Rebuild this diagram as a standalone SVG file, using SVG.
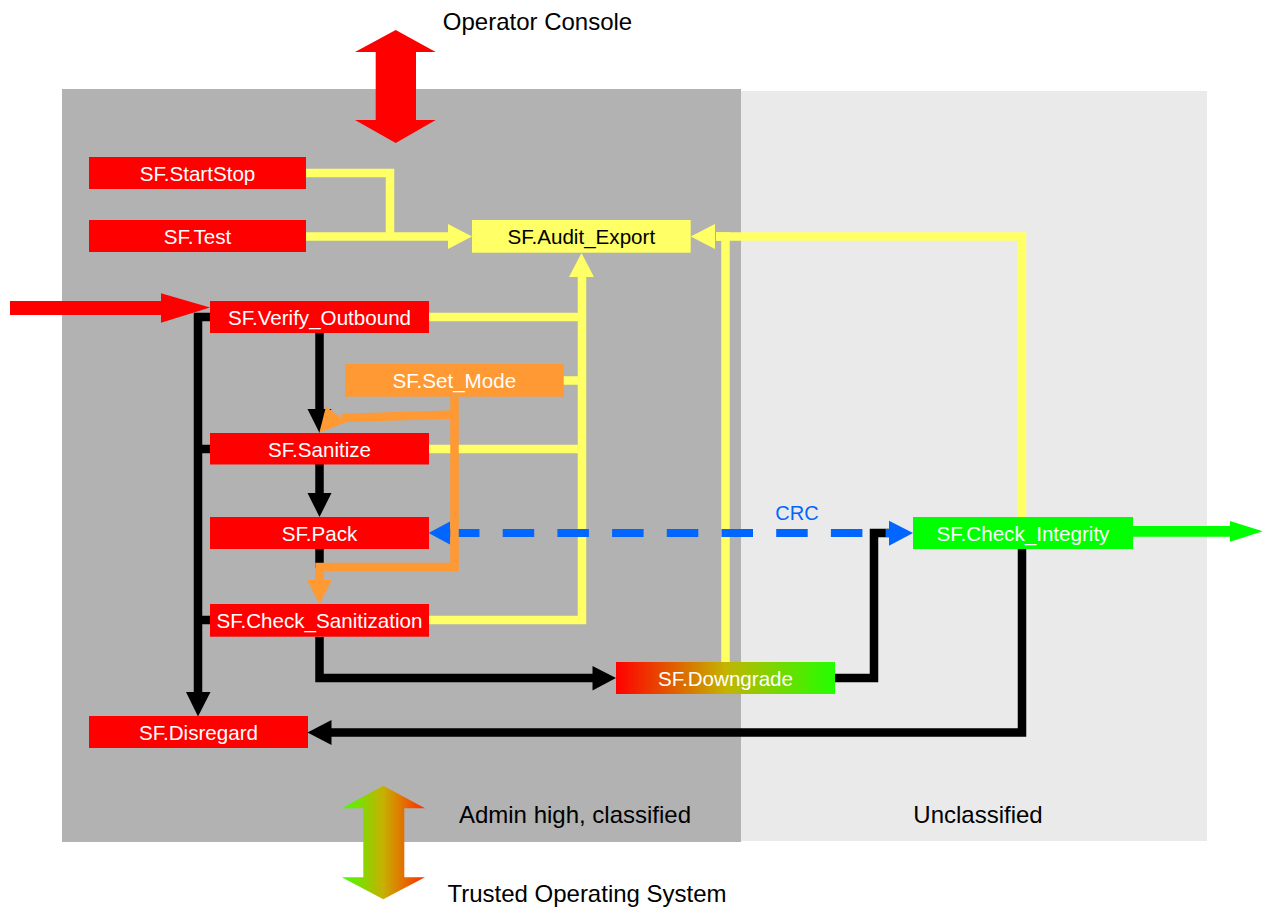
<svg xmlns="http://www.w3.org/2000/svg" width="1270" height="913" viewBox="0 0 1270 913">
<defs>
<linearGradient id="gDown" x1="0" y1="0" x2="1" y2="0">
<stop offset="0" stop-color="#ff0000"/>
<stop offset="0.5" stop-color="#c4b400"/>
<stop offset="1" stop-color="#22ff00"/>
</linearGradient>
<linearGradient id="gTos" x1="0" y1="0" x2="1" y2="0">
<stop offset="0" stop-color="#44ff00"/>
<stop offset="0.5" stop-color="#c8b000"/>
<stop offset="1" stop-color="#ff2a00"/>
</linearGradient>
<style>
.txt{font-family:"Liberation Sans",Arial,sans-serif;}
.lbl{font-size:24px;fill:#000;}
.nt{font-size:20.6px;text-anchor:middle;}
.w{fill:#ffffff;}
.k{fill:#000000;}
.red{fill:#ff0000;}
.yel{fill:#ffff66;}
.org{fill:#ff9933;}
.grn{fill:#00ff00;}
.cy{fill:none;stroke:#ffff66;stroke-width:8.5;stroke-linejoin:miter;}
.ck{fill:none;stroke:#000000;stroke-width:8.5;stroke-linejoin:miter;}
.co{fill:none;stroke:#ff9933;stroke-width:8.5;stroke-linejoin:miter;}
.cb{fill:none;stroke:#0066ff;stroke-width:8;stroke-dasharray:31.5 23.2;}
.hy{fill:#ffff66;}
.hk{fill:#000000;}
.ho{fill:#ff9933;}
.hb{fill:#0066ff;}
</style>
</defs>

<g id="zones">
<rect x="62" y="89" width="679" height="753" fill="#b2b2b2"/>
<rect x="741" y="91" width="466" height="750" fill="#eaeaea"/>
<text class="txt lbl" x="575" y="823" text-anchor="middle">Admin high, classified</text>
<text class="txt lbl" x="978" y="823" text-anchor="middle">Unclassified</text>
</g>

<g id="operator-console">
<polygon class="red" points="395.7,30 435.7,52 416,52 416,120 435.7,120 395.7,143 355,120 375.7,120 375.7,52 355,52"/>
<text class="txt lbl" x="537.5" y="29.5" text-anchor="middle">Operator Console</text>
</g>

<g id="trusted-os">
<polygon fill="url(#gTos)" points="383.3,785.7 425,808.3 404.3,808.3 404.3,877.3 425,877.3 383.3,899.3 341.7,877.3 363.3,877.3 363.3,808.3 341.7,808.3"/>
<text class="txt lbl" x="587" y="902" text-anchor="middle">Trusted Operating System</text>
</g>

<g id="connectors">
<!-- yellow audit connectors -->
<path class="cy" d="M306,173 H390 V237"/>
<path class="cy" d="M306,236.5 H449"/>
<polygon class="hy" points="448,224 448,249 472,236.5"/>
<path class="cy" d="M429,317 H582"/>
<path class="cy" d="M563,380.5 H582"/>
<path class="cy" d="M429,449 H582"/>
<path class="cy" d="M429,620 H582 V276"/>
<polygon class="hy" points="569,277 594,277 581.5,253"/>
<path class="cy" d="M725.5,662 V236.5 H716"/>
<path class="cy" d="M1022,517 V236.5 H716"/>
<polygon class="hy" points="715,224 715,249 690.7,236.5"/>

<!-- black flow connectors -->
<path class="ck" d="M319.5,333 V410"/>
<polygon class="hk" points="307.5,409 331.5,409 319.5,433"/>
<path class="ck" d="M319.5,464 V494"/>
<polygon class="hk" points="307.5,493 331.5,493 319.5,517"/>
<path class="ck" d="M319.5,549 V568"/>
<path class="ck" d="M210,317 H198 V693"/>
<polygon class="hk" points="186,692 210.5,692 198,716.5"/>
<path class="ck" d="M198,449 H210"/>
<path class="ck" d="M198,620 H210"/>
<path class="ck" d="M319.5,637 V678 H593"/>
<polygon class="hk" points="592.5,666 592.5,690.5 616,678"/>
<path class="ck" d="M835,678 H874 V533 H890"/>
<path class="ck" d="M1022,549 V732.5 H331"/>
<polygon class="hk" points="331.5,720 331.5,745 307.5,732.5"/>

<!-- blue CRC connector -->
<path class="cb" d="M448,533 H889"/>
<polygon class="hb" points="450,521.5 450,544.5 428.5,533"/>
<polygon class="hb" points="889,520.7 889,545.7 913,533"/>
<text class="txt" x="797" y="520" font-size="20" fill="#0066ff" text-anchor="middle">CRC</text>

<!-- orange mode connectors -->
<path class="co" d="M454.5,397 V567 H319.5 V581"/>
<polygon class="ho" points="307,580 331.7,580 319.5,604"/>
<path class="co" d="M454.5,414.5 L342,418"/>
<polygon class="ho" points="319.3,432.7 326,406.5 346.5,422"/>

<!-- input / output -->
<polygon class="red" points="10,301 161,301 161,293.3 210,307.5 161,322.7 161,315 10,315"/>
<polygon class="grn" points="1133,526 1230,526 1230,521 1262.7,531.3 1230,541.7 1230,536.7 1133,536.7"/>
</g>

<g id="node-startstop">
<rect class="red" x="89" y="157" width="217" height="32"/>
<text class="txt nt w" x="197.5" y="180.5">SF.StartStop</text>
</g>
<g id="node-test">
<rect class="red" x="89" y="220" width="217" height="32"/>
<text class="txt nt w" x="197.5" y="243.5">SF.Test</text>
</g>
<g id="node-audit-export">
<rect class="yel" x="472" y="220" width="218.7" height="32.7"/>
<text class="txt nt k" x="581.3" y="243.8">SF.Audit_Export</text>
</g>
<g id="node-verify-outbound">
<rect class="red" x="210" y="301" width="219" height="32"/>
<text class="txt nt w" x="319.5" y="324.8">SF.Verify_Outbound</text>
</g>
<g id="node-set-mode">
<rect class="org" x="345" y="364" width="218.7" height="32.7"/>
<text class="txt nt w" x="454.3" y="388">SF.Set_Mode</text>
</g>
<g id="node-sanitize">
<rect class="red" x="210" y="433" width="219" height="31.5"/>
<text class="txt nt w" x="319.5" y="456.5">SF.Sanitize</text>
</g>
<g id="node-pack">
<rect class="red" x="210" y="517" width="219" height="32"/>
<text class="txt nt w" x="319.5" y="540.5">SF.Pack</text>
</g>
<g id="node-check-sanitization">
<rect class="red" x="210" y="604" width="219" height="32.7"/>
<text class="txt nt w" x="319.5" y="628">SF.Check_Sanitization</text>
</g>
<g id="node-disregard">
<rect class="red" x="89" y="716" width="219" height="32"/>
<text class="txt nt w" x="198.5" y="739.5">SF.Disregard</text>
</g>
<g id="node-downgrade">
<rect fill="url(#gDown)" x="616" y="662" width="219" height="32"/>
<text class="txt nt w" x="725.5" y="685.5">SF.Downgrade</text>
</g>
<g id="node-check-integrity">
<rect class="grn" x="913" y="517" width="220" height="32"/>
<text class="txt nt w" x="1023" y="540.5">SF.Check_Integrity</text>
</g>
</svg>
